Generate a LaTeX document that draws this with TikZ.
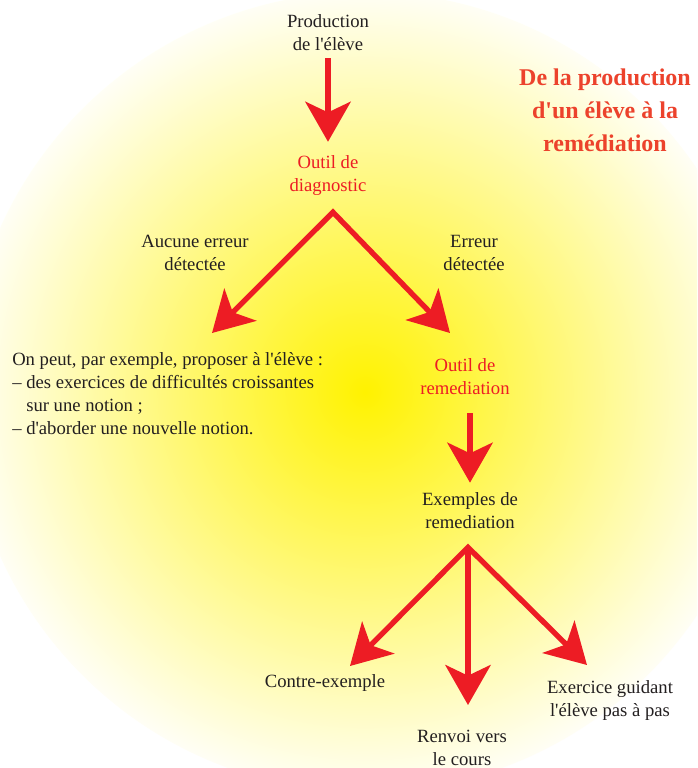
\documentclass[tikz,border=0pt]{standalone}
\usepackage{fontspec}
\setmainfont{Liberation Serif}[Ligatures=TeXOff]
\usetikzlibrary{positioning, arrows.meta}
\definecolor{glowyellow}{RGB}{255,242,0}
\definecolor{arrowred}{RGB}{237,28,36}
\definecolor{titlered}{RGB}{236,66,44}
\definecolor{inkgray}{RGB}{35,31,32}
\pgfdeclareradialshading{glow}{\pgfpoint{0bp}{0bp}}{color(0bp)=(glowyellow); color(26bp)=(white); color(50bp)=(white)}

\begin{document}
\begin{tikzpicture}[
    x=0.75pt, y=-0.75pt,
    redtip/.tip={Stealth[length=30pt, width=34pt, inset=8pt]},
    arr/.style={draw=arrowred, line width=4pt, -redtip},
    txt/.style={inner sep=0pt, align=center, text=inkgray, font=\fontsize{14}{17.25}\selectfont},
    redtxt/.style={txt, text=arrowred},
    headline/.style={inner sep=0pt, align=center, text=titlered, font=\bfseries\fontsize{18}{24.75}\selectfont}
]
    \useasboundingbox (0,0) rectangle (697,768);
    % Background glow
    \fill[white] (0,0) rectangle (697,768);
    \begin{scope}
        \clip (0,0) rectangle (697,768);
        \shade[shading=glow] (365,392) circle (400);
    \end{scope}
    % Title
    \node[headline] (title) at (605,110) {De la production\\d'un élève à la\\remédiation};
    % Main flow
    \node[txt] (prod) at (328,33) {Production\\de l'élève};
    \node[redtxt] (diag) at (328,176) {Outil de\\diagnostic};
    \node[txt] (aucune) at (195,253) {Aucune erreur\\détectée};
    \node[txt] (erreur) at (474,253) {Erreur\\détectée};
    \node[txt, anchor=west, align=left] (notes) at (12,394) {On peut, par exemple, proposer à l'élève :\\
        – des exercices de difficultés croissantes\\
        \hphantom{–\ }sur une notion ;\\
        – d'aborder une nouvelle notion.};
    \node[redtxt] (remed) at (465,377) {Outil de\\remediation};
    \node[txt] (exemples) at (470,511) {Exemples de\\remediation};
    % Examples at bottom
    \node[txt] (contre) at (325,683) {Contre-exemple};
    \node[txt] (renvoi) at (462,748) {Renvoi vers\\le cours};
    \node[txt] (exercice) at (610,701) {Exercice guidant\\l'élève pas à pas};
    % Fork points and free ends
    \coordinate (fork1) at ([xshift=3.75pt, yshift=-12pt]diag.south);
    \coordinate (toNotes) at (212,333);
    \coordinate (toRemed) at (450,333);
    \coordinate (fork2) at ([xshift=-1.5pt, yshift=-13.5pt]exemples.south);
    \coordinate (toContre) at (350,666);
    \coordinate (toRenvoi) at (468,705);
    \coordinate (toExercice) at (587,665);
    % Arrows
    \draw[arr, shorten <=5pt, shorten >=10.5pt] (prod) -- (diag);
    \draw[arr, redtip-redtip] (toNotes) -- (fork1) -- (toRemed);
    \draw[arr, shorten <=13.5pt, shorten >=7.5pt] (exemples.north |- remed.south) -- (exemples.north);
    \draw[arr, redtip-redtip] (toContre) -- (fork2) -- (toExercice);
    \draw[arr] (fork2) -- (fork2 |- toRenvoi);
\end{tikzpicture}
\end{document}
